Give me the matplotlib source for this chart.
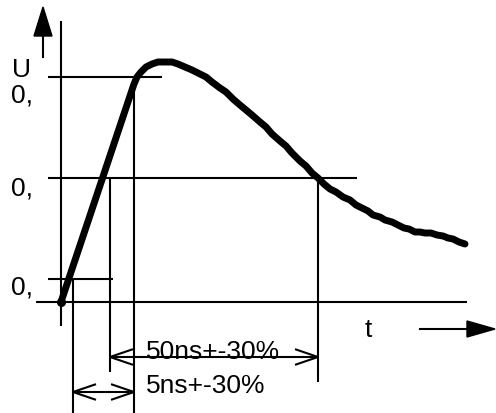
import matplotlib
matplotlib.use("Agg")
import matplotlib.pyplot as plt

plt.rcParams['font.family'] = ['Liberation Sans', 'DejaVu Sans']

# Waveform (pixel-like diagram coordinates: x to the right, y downward)
curve_x = [61, 134, 137, 141, 146, 152, 158, 165, 172, 178, 185, 192, 200, 206, 212,
           220, 226, 233, 240, 246, 252, 260, 266, 272, 280, 286, 292, 300, 306, 312,
           318, 324, 330, 336, 343, 350, 356, 362, 368, 373, 380, 385, 392, 398, 404,
           409, 415, 420, 425, 431, 437, 443, 448, 453, 459, 465]
curve_y = [303, 85, 78, 73, 68, 65, 63, 63, 63, 65, 68, 71, 75, 78, 83,
           89, 93, 100, 106, 111, 116, 123, 128, 135, 142, 147, 154, 162, 167, 174,
           179, 185, 190, 193, 198, 201, 206, 209, 212, 216, 218, 221, 223, 226, 229,
           230, 233, 233, 234, 234, 236, 237, 239, 240, 243, 245]

# Reference levels (90 %, 50 %, 10 %) and baseline
level_y = [78, 179, 280]
level_x0 = [48, 48, 48]
level_x1 = [162, 357, 113]
base_y = 303
base_x = (36, 467)

# Vertical guide lines: x, y_top, y_bottom
vguide_x = [61, 134, 110, 73, 318]
vguide_top = [22, 78, 179, 280, 179]
vguide_bot = [327, 414, 373, 414, 383]

# Dimension arrows
dim_y = [358, 393]
dim_x0 = [110, 73]
dim_x1 = [318, 134]
dim_labels = ["50ns+-30%", "5ns+-30%"]
dim_label_y = [352.5, 386]

level_labels = ["0,", "0,", "0,"]

fig = plt.figure(figsize=(4.96, 4.14), dpi=100)
ax = fig.add_axes([0, 0, 1, 1])
ax.set_xlim(0, 496)
ax.set_ylim(414, 0)
ax.axis('off')

lw = 1.5
for y, a, b in zip(level_y, level_x0, level_x1):
    ax.plot([a, b], [y, y], color='black', lw=lw, solid_capstyle='butt')
ax.plot(base_x, [base_y, base_y], color='black', lw=lw, solid_capstyle='butt')
for x, t, b in zip(vguide_x, vguide_top, vguide_bot):
    ax.plot([x, x], [t, b], color='black', lw=lw, solid_capstyle='butt')

# waveform
ax.plot(curve_x, curve_y, color='black', lw=5, solid_capstyle='round', solid_joinstyle='round')
ax.plot([curve_x[0]], [curve_y[0]], 'o', color='black', ms=5.5)

# dimension arrows with open heads
hl, hw = 22, 7.5
for y, a, b, lab, ly in zip(dim_y, dim_x0, dim_x1, dim_labels, dim_label_y):
    ax.plot([a, b], [y, y], color='black', lw=lw, solid_capstyle='butt')
    ax.plot([a + hl, a, a + hl], [y - hw, y, y + hw], color='black', lw=lw,
            solid_joinstyle='miter')
    ax.plot([b - hl, b, b - hl], [y - hw, y, y + hw], color='black', lw=lw,
            solid_joinstyle='miter')
    ax.text(146, ly, lab, fontsize=19, ha='left', va='center')

# axis arrows
ax.plot([43, 43], [58, 36], color='black', lw=lw)
ax.fill([34, 52, 43], [37, 37, 8], color='black')
ax.plot([420, 468], [330, 330], color='black', lw=lw)
ax.fill([467, 467, 495], [322, 338, 330], color='black')

ax.text(21, 70, "U", fontsize=19, ha='center', va='center')
ax.text(368, 330, "t", fontsize=19, ha='center', va='center')
for y, lab in zip([96, 189, 288], level_labels):
    ax.text(22, y, lab, fontsize=19, ha='center', va='center')

fig.savefig('out.png', dpi=100)
